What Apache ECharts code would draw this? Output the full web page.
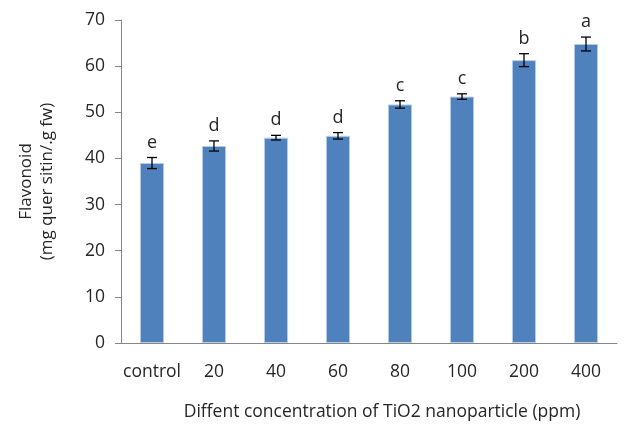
<!DOCTYPE html>
<html><head><meta charset="utf-8">
<script src="https://cdn.jsdelivr.net/npm/echarts@6/dist/echarts.min.js"></script>
<style>html,body{margin:0;padding:0;background:#fff}#c{width:624px;height:426px}</style>
</head><body><div id="c"></div>
<script>
var categories = ['control','20','40','60','80','100','200','400'];
var values = [39.0, 42.7, 44.5, 44.9, 51.7, 53.4, 61.3, 64.8];
var errors = [1.2, 1.1, 0.5, 0.7, 0.8, 0.6, 1.4, 1.5];
var letters = ['e','d','d','d','c','c','b','a'];

var FONT = '"Open Sans", sans-serif';
var TXT = '#262626';
var chart = echarts.init(document.getElementById('c'));
var errData = values.map(function(v,i){return [i, v, errors[i]];});
chart.setOption({
  animation:false,
  grid:{left:121,right:7,top:20,bottom:83},
  xAxis:{type:'category',data:categories,
    name:'Diffent concentration of TiO2 nanoparticle (ppm)',nameLocation:'middle',nameGap:60,
    nameTextStyle:{fontFamily:FONT,fontSize:17.5,color:TXT,padding:[0,0,0,26]},
    axisLine:{lineStyle:{color:'#868686'}},
    axisTick:{length:6,lineStyle:{color:'#868686'}},
    axisLabel:{fontFamily:FONT,fontSize:17.5,color:TXT,margin:20,interval:0}},
  yAxis:{type:'value',min:0,max:70,interval:10,
    name:'Flavonoid\n(mg quer sitin/.g fw)',nameLocation:'middle',nameGap:63,
    nameTextStyle:{fontFamily:FONT,fontSize:17,color:TXT,lineHeight:21},
    axisLine:{show:true,lineStyle:{color:'#868686'}},
    axisTick:{show:true,length:6,inside:false,lineStyle:{color:'#868686'}},
    splitLine:{show:false},
    axisLabel:{fontFamily:FONT,fontSize:17.5,color:TXT,margin:16}},
  series:[{type:'bar',data:values,barWidth:'39%',
      itemStyle:{color:'#4F81BD',borderColor:'#B9CDE5',borderWidth:1}},
    {type:'custom',data:errData,z:10,
      renderItem:function(params,api){
        var i=api.value(0),v=api.value(1),e=api.value(2);
        var top=api.coord([i,v+e]),bot=api.coord([i,v-e]);
        var x=top[0],w=5;
        var st={stroke:'#000',lineWidth:1.3};
        return {type:'group',children:[
          {type:'line',shape:{x1:x,y1:top[1],x2:x,y2:bot[1]},style:st},
          {type:'line',shape:{x1:x-w,y1:top[1],x2:x+w,y2:top[1]},style:st},
          {type:'line',shape:{x1:x-w,y1:bot[1],x2:x+w,y2:bot[1]},style:st},
          {type:'text',style:{text:letters[i],x:x,y:top[1]-15,align:'center',verticalAlign:'middle',
            font:'18px "Open Sans", sans-serif',fill:TXT}}
        ]};
      }}]
});
</script></body></html>
